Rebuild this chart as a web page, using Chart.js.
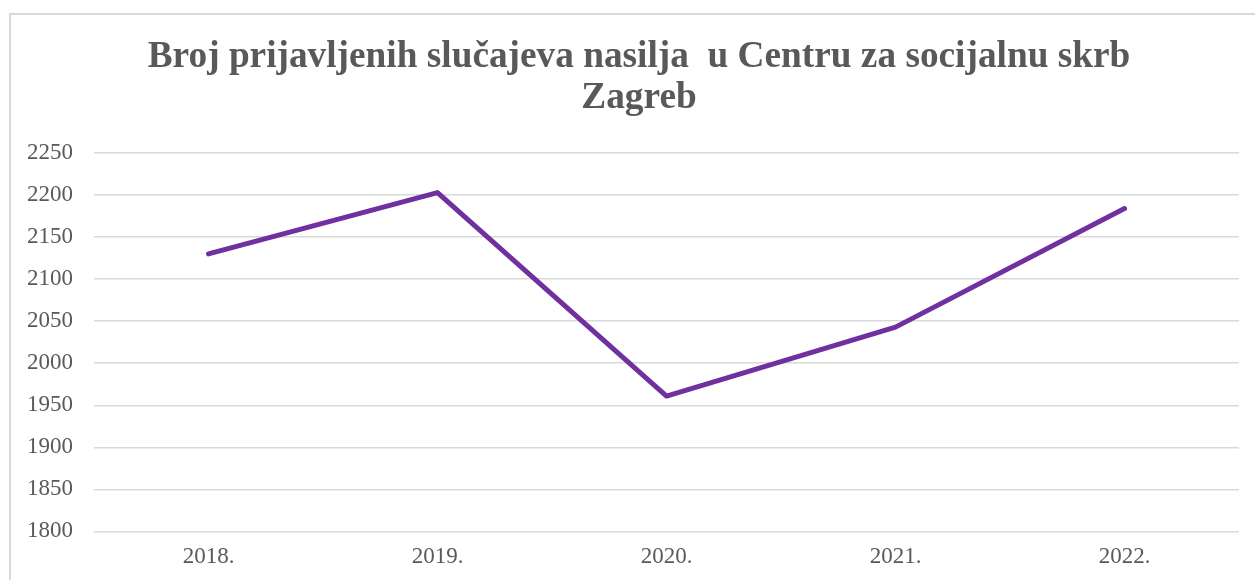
<!DOCTYPE html>
<html>
<head>
<meta charset="utf-8">
<script src="https://cdn.jsdelivr.net/npm/chart.js@4.4.1/dist/chart.umd.min.js"></script>
<style>
  html, body { margin: 0; padding: 0; background: #ffffff; }
  body { width: 1255px; height: 580px; position: relative; overflow: hidden; }
  #frame { position: absolute; left: 9px; top: 13px; width: 1300px; height: 620px;
           border-left: 2px solid #d9d9d9; border-top: 2px solid #d9d9d9; }
  #wrap { position: absolute; left: 0; top: 0; width: 1255px; height: 580px; }
</style>
</head>
<body>
<div id="frame"></div>
<div id="wrap"><canvas id="c" width="1255" height="580"></canvas></div>
<script>
const titleLines = ["Broj prijavljenih slučajeva nasilja  u Centru za socijalnu skrb", "Zagreb"];
const years = ["2018.", "2019.", "2020.", "2021.", "2022."];
const cases = [2130, 2203, 1961, 2043, 2184];
const yMin = 1800;
const yMax = 2250;
const yStep = 50;

const FONT = "'Liberation Serif', 'Times New Roman', serif";
const TEXT = "#595959";

// Shift the title block slightly right so it is centred like the original chart.
const titleShift = {
  id: 'titleShift',
  afterLayout(chart) {
    const t = chart.titleBlock;
    if (t) { t.left += 16.5; t.right += 16.5; }
  }
};

new Chart(document.getElementById('c'), {
  type: 'line',
  data: {
    labels: years,
    datasets: [{
      data: cases,
      borderColor: '#7030A0',
      backgroundColor: '#7030A0',
      borderWidth: 5,
      borderCapStyle: 'round',
      borderJoinStyle: 'round',
      pointRadius: 0,
      tension: 0,
      fill: false
    }]
  },
  plugins: [titleShift],
  options: {
    responsive: false,
    animation: false,
    layout: { padding: { left: 6, right: 16, top: 0, bottom: -3 } },
    plugins: {
      legend: { display: false },
      tooltip: { enabled: false },
      title: {
        display: true,
        text: titleLines,
        color: TEXT,
        font: { family: FONT, size: 37.3, weight: 'bold', lineHeight: 1.1 },
        padding: { top: 37, bottom: 34 }
      }
    },
    scales: {
      x: {
        offset: true,
        grid: { display: false, drawTicks: false },
        border: { display: false },
        ticks: { color: TEXT, font: { family: FONT, size: 23 }, padding: 12 }
      },
      y: {
        min: yMin,
        max: yMax,
        grid: { color: '#d9d9d9', lineWidth: 1.5, drawTicks: false },
        border: { display: false },
        ticks: { stepSize: yStep, color: TEXT, font: { family: FONT, size: 23 }, padding: 21,
                 callback: v => String(v) }
      }
    }
  }
});
</script>
</body>
</html>
